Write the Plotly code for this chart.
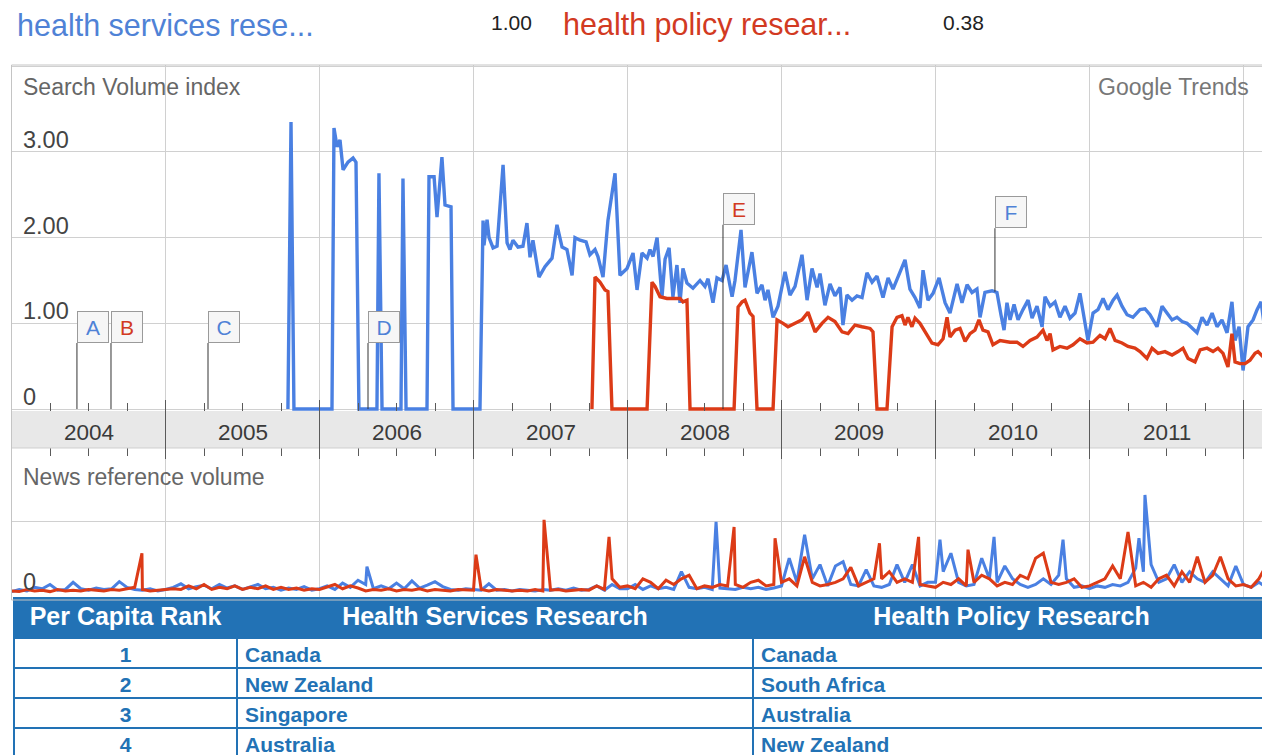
import numpy as np
import plotly.graph_objects as go

W, H = 1270, 755

# ---------------- data ----------------
terms = ["health services rese...", "health policy resear..."]
term_avgs = ["1.00", "0.38"]

year_labels = [2004, 2005, 2006, 2007, 2008, 2009, 2010, 2011]
year_bounds = [2005, 2006, 2007, 2008, 2009, 2010, 2011, 2012]
top_ticks = [0, 1, 2, 3]
top_tick_text = ["0", "1.00", "2.00", "3.00"]

# Search volume index, "health services research" (decimal year, value)
hsr_t = [2005.795, 2005.815, 2005.834, 2006.081, 2006.094, 2006.114, 2006.133, 2006.153, 2006.185, 2006.218,
         2006.237, 2006.256, 2006.373, 2006.386, 2006.406, 2006.529, 2006.542, 2006.562, 2006.698, 2006.711,
         2006.744, 2006.763, 2006.795, 2006.815, 2006.854, 2006.867, 2007.042, 2007.062, 2007.068, 2007.088,
         2007.101, 2007.127, 2007.153, 2007.192, 2007.218, 2007.237, 2007.256, 2007.289, 2007.321, 2007.347,
         2007.367, 2007.386, 2007.425, 2007.464, 2007.510, 2007.542, 2007.575, 2007.607, 2007.640, 2007.659,
         2007.692, 2007.731, 2007.756, 2007.789, 2007.808, 2007.841, 2007.873, 2007.919, 2007.951, 2007.997,
         2008.036, 2008.062, 2008.094, 2008.127, 2008.146, 2008.166, 2008.192, 2008.224, 2008.244, 2008.270,
         2008.295, 2008.321, 2008.341, 2008.360, 2008.386, 2008.425, 2008.471, 2008.503, 2008.523, 2008.555,
         2008.581, 2008.614, 2008.640, 2008.679, 2008.698, 2008.737, 2008.763, 2008.808, 2008.841, 2008.873,
         2008.893, 2008.912, 2008.945, 2008.977, 2009.023, 2009.055, 2009.088, 2009.133, 2009.166, 2009.198,
         2009.231, 2009.250, 2009.282, 2009.315, 2009.347, 2009.380, 2009.399, 2009.425, 2009.458, 2009.490,
         2009.523, 2009.555, 2009.588, 2009.620, 2009.659, 2009.692, 2009.724, 2009.756, 2009.802, 2009.834,
         2009.867, 2009.899, 2009.919, 2009.951, 2009.984, 2010.023, 2010.062, 2010.094, 2010.140, 2010.172,
         2010.205, 2010.237, 2010.269, 2010.289, 2010.321, 2010.367, 2010.399, 2010.425, 2010.445, 2010.464,
         2010.484, 2010.510, 2010.536, 2010.568, 2010.601, 2010.627, 2010.659, 2010.692, 2010.711, 2010.744,
         2010.776, 2010.808, 2010.841, 2010.873, 2010.906, 2010.938, 2010.971, 2010.990, 2011.023, 2011.055,
         2011.088, 2011.120, 2011.153, 2011.179, 2011.211, 2011.244, 2011.282, 2011.328, 2011.360, 2011.393,
         2011.438, 2011.471, 2011.503, 2011.536, 2011.568, 2011.601, 2011.633, 2011.666, 2011.698, 2011.731,
         2011.763, 2011.796, 2011.828, 2011.860, 2011.893, 2011.925, 2011.945, 2011.971, 2011.997, 2012.029,
         2012.062, 2012.088, 2012.114, 2012.133]
hsr_v = [0, 3.35, 0, 0, 3.28, 3.06, 3.14, 2.79, 2.88, 2.93,
         2.88, 0, 0, 2.75, 0, 0, 2.69, 0, 0, 2.71,
         2.71, 2.24, 2.94, 2.38, 2.36, 0, 0, 2.2, 1.91, 2.21,
         2.0, 1.88, 1.9, 2.85, 1.94, 1.86, 1.97, 1.89, 1.9, 2.17,
         1.77, 1.97, 1.54, 1.66, 1.76, 2.15, 1.89, 1.86, 1.56, 2.0,
         1.97, 1.95, 1.8, 1.86, 1.78, 1.54, 2.2, 2.75, 1.56, 1.64,
         1.82, 1.39, 1.82, 1.76, 1.86, 1.78, 2.0, 1.31, 1.75, 1.88,
         1.31, 1.68, 1.24, 1.64, 1.47, 1.41, 1.5, 1.43, 1.52, 1.24,
         1.53, 1.5, 1.68, 1.31, 1.5, 2.09, 1.42, 1.83, 1.35, 1.45,
         1.27, 1.39, 1.07, 1.2, 1.6, 1.33, 1.43, 1.8, 1.27, 1.64,
         1.42, 1.58, 1.21, 1.46, 1.32, 1.42, 0.98, 1.33, 1.27, 1.32,
         1.3, 1.59, 1.48, 1.55, 1.3, 1.53, 1.4, 1.55, 1.74, 1.4,
         1.3, 1.18, 1.62, 1.27, 1.35, 1.53, 1.24, 1.12, 1.46, 1.24,
         1.45, 1.36, 1.4, 1.07, 1.36, 1.38, 1.36, 1.1, 0.92, 1.24,
         1.04, 1.22, 1.04, 1.16, 1.27, 1.06, 1.2, 0.96, 1.31, 1.2,
         1.25, 1.07, 1.2, 1.06, 1.12, 1.35, 0.96, 0.8, 1.12, 1.16,
         1.29, 1.16, 1.27, 1.33, 1.2, 1.1, 1.07, 1.16, 1.17, 1.1,
         0.96, 1.2, 1.12, 1.04, 1.07, 1.02, 1.0, 0.95, 0.89, 1.07,
         0.98, 1.12, 0.96, 1.04, 0.89, 1.25, 0.8, 0.96, 0.45, 0.96,
         1.04, 1.16, 1.25, 1.0]

# Search volume index, "health policy research"
hpr_t = [2007.769, 2007.789, 2007.821, 2007.854, 2007.873, 2007.899, 2008.127, 2008.159, 2008.179, 2008.211,
         2008.256, 2008.341, 2008.360, 2008.386, 2008.406, 2008.692, 2008.718, 2008.744, 2008.763, 2008.795,
         2008.815, 2008.841, 2008.945, 2008.971, 2009.010, 2009.042, 2009.088, 2009.133, 2009.172, 2009.218,
         2009.263, 2009.302, 2009.347, 2009.393, 2009.432, 2009.477, 2009.523, 2009.575, 2009.594, 2009.620,
         2009.685, 2009.718, 2009.750, 2009.782, 2009.802, 2009.821, 2009.847, 2009.867, 2009.899, 2009.932,
         2009.977, 2010.016, 2010.049, 2010.075, 2010.094, 2010.127, 2010.159, 2010.192, 2010.224, 2010.256,
         2010.282, 2010.308, 2010.341, 2010.373, 2010.419, 2010.484, 2010.529, 2010.568, 2010.614, 2010.659,
         2010.698, 2010.724, 2010.744, 2010.763, 2010.808, 2010.854, 2010.893, 2010.938, 2010.984, 2011.023,
         2011.068, 2011.101, 2011.133, 2011.166, 2011.211, 2011.250, 2011.295, 2011.328, 2011.373, 2011.406,
         2011.445, 2011.490, 2011.536, 2011.575, 2011.607, 2011.640, 2011.685, 2011.718, 2011.763, 2011.802,
         2011.834, 2011.867, 2011.899, 2011.925, 2011.945, 2011.977, 2012.010, 2012.042, 2012.075, 2012.094,
         2012.127]
hpr_v = [0, 1.54, 1.48, 1.39, 1.37, 0, 0, 1.48, 1.43, 1.31,
         1.29, 1.29, 1.25, 1.27, 0, 0, 1.19, 1.25, 1.27, 1.12,
         1.08, 0, 0, 1.04, 1.0, 0.96, 1.0, 1.04, 1.13, 0.9,
         1.0, 1.07, 1.02, 0.9, 0.88, 0.98, 0.96, 0.94, 0.9, 0,
         0, 0.96, 1.07, 1.09, 0.98, 1.07, 0.96, 1.06, 1.0, 0.9,
         0.77, 0.75, 0.82, 1.07, 0.84, 0.92, 0.94, 0.79, 0.88, 0.92,
         1.04, 0.92, 0.9, 0.75, 0.8, 0.78, 0.78, 0.73, 0.8, 0.84,
         0.92, 0.8, 0.88, 0.69, 0.73, 0.71, 0.75, 0.82, 0.77, 0.78,
         0.86, 0.82, 0.94, 0.8, 0.77, 0.73, 0.71, 0.67, 0.59, 0.71,
         0.65, 0.67, 0.63, 0.67, 0.71, 0.59, 0.55, 0.69, 0.71, 0.67,
         0.71, 0.65, 0.49, 0.88, 0.55, 0.53, 0.53, 0.57, 0.65, 0.67,
         0.61]

# News reference volume: regular samples every 0.05 year from 2004.00, plus narrow spikes
news_start, news_step = 2004.0, 0.05
news_hsr_grid = [
    0.02, 0.05, 0.03, 0.08, 0.06, 0.12, 0.04, 0.05, 0.15, 0.06, 0.04, 0.07, 0.05, 0.06, 0.16, 0.08, 0.05, 0.04, 0.06, 0.03,
    0.05, 0.08, 0.13, 0.06, 0.09, 0.11, 0.06, 0.12, 0.07, 0.10, 0.05, 0.09, 0.12, 0.06, 0.08, 0.04, 0.07, 0.05, 0.09, 0.04,
    0.06, 0.10, 0.05, 0.14, 0.08, 0.18, 0.12, 0.06, 0.10, 0.06, 0.14, 0.06, 0.17, 0.07, 0.11, 0.16, 0.09, 0.05, 0.04, 0.06,
    0.05, 0.04, 0.13, 0.04, 0.05, 0.03, 0.05, 0.04, 0.03, 0.05, 0.04, 0.06, 0.04, 0.07, 0.04, 0.05, 0.10, 0.04, 0.12, 0.06,
    0.06, 0.12, 0.05, 0.10, 0.06, 0.08, 0.05, 0.30, 0.08, 0.06, 0.08, 0.05, 0.07, 0.06, 0.05, 0.08, 0.06, 0.08, 0.05, 0.07,
    0.10, 0.49, 0.15, 0.82, 0.20, 0.40, 0.10, 0.38, 0.44, 0.12, 0.10, 0.33, 0.10, 0.08, 0.12, 0.40, 0.15, 0.40, 0.10, 0.15,
    0.15, 0.30, 0.56, 0.15, 0.10, 0.12, 0.49, 0.20, 0.15, 0.38, 0.20, 0.12, 0.08, 0.12, 0.20, 0.12, 0.25, 0.20, 0.08, 0.10,
    0.06, 0.10, 0.08, 0.12, 0.10, 0.15, 0.35, 0.30, 0.40, 0.15, 0.20, 0.40, 0.15, 0.30, 0.20, 0.15, 0.30, 0.20, 0.10, 0.38,
    0.12, 0.08, 0.15, 0.08]
news_hpr_grid = [
    0.03, 0.02, 0.05, 0.03, 0.04, 0.02, 0.05, 0.03, 0.04, 0.03, 0.05, 0.04, 0.03, 0.05, 0.04, 0.06, 0.08, 0.05, 0.03, 0.04,
    0.04, 0.06, 0.05, 0.10, 0.06, 0.12, 0.05, 0.08, 0.06, 0.10, 0.05, 0.08, 0.06, 0.10, 0.05, 0.08, 0.05, 0.07, 0.04, 0.06,
    0.05, 0.09, 0.12, 0.06, 0.10, 0.07, 0.03, 0.05, 0.04, 0.06, 0.03, 0.05, 0.04, 0.06, 0.03, 0.05, 0.04, 0.03, 0.05, 0.04,
    0.04, 0.05, 0.03, 0.05, 0.04, 0.03, 0.04, 0.03, 0.05, 0.03, 0.04, 0.05, 0.03, 0.04, 0.05, 0.04, 0.10, 0.05, 0.20, 0.08,
    0.10, 0.06, 0.20, 0.15, 0.06, 0.18, 0.12, 0.20, 0.25, 0.06, 0.10, 0.08, 0.12, 0.10, 0.12, 0.08, 0.15, 0.18, 0.10, 0.12,
    0.15, 0.20, 0.10, 0.51, 0.15, 0.10, 0.12, 0.15, 0.20, 0.36, 0.10, 0.15, 0.20, 0.20, 0.30, 0.15, 0.20, 0.15, 0.12, 0.10,
    0.08, 0.15, 0.12, 0.20, 0.10, 0.15, 0.25, 0.20, 0.10, 0.15, 0.12, 0.25, 0.20, 0.49, 0.56, 0.15, 0.12, 0.15, 0.20, 0.08,
    0.10, 0.15, 0.20, 0.38, 0.20, 0.86, 0.10, 0.15, 0.08, 0.20, 0.25, 0.10, 0.30, 0.15, 0.51, 0.15, 0.25, 0.51, 0.20, 0.10,
    0.12, 0.08, 0.20, 0.40]
news_hsr_spike_t = [2006.308, 2008.575, 2010.029, 2010.380, 2010.828, 2011.321, 2011.360]
news_hsr_spike_v = [0.37, 1.00, 0.75, 0.79, 0.75, 0.77, 1.38]
news_hpr_spike_t = [2004.847, 2007.016, 2007.458, 2007.880, 2008.692, 2008.958, 2009.636, 2009.890, 2010.211]
news_hpr_spike_v = [0.56, 0.54, 1.03, 0.79, 0.93, 0.77, 0.70, 0.79, 0.61]

# Event markers
marker_letters = ["A", "B", "C", "D", "E", "F"]
marker_t = [2004.425, 2004.646, 2005.276, 2006.315, 2008.620, 2010.386]
marker_series = ["hsr", "hpr", "hsr", "hsr", "hpr", "hsr"]

# Table
table_headers = ["Per Capita Rank", "Health Services Research", "Health Policy Research"]
ranks = ["1", "2", "3", "4"]
hsr_countries = ["Canada", "New Zealand", "Singapore", "Australia"]
hpr_countries = ["Canada", "South Africa", "Australia", "New Zealand"]

# ---------------- style / layout ----------------
BLUE = "#4a80e2"
RED = "#dc3b17"
TXT_BLUE = "#4f82d6"
TXT_RED = "#d23a22"
GRID = "#d0d0d0"
TICK = "#5a5a5a"
TBL = "#2272b5"
FONT = "Liberation Sans, Arial, sans-serif"
BOX_LEVEL = {"A": 0.77, "B": 0.77, "C": 0.77, "D": 0.77, "E": 2.15, "F": 2.11}

# the page body adds an 8px margin, so layout pixels are offset by it
OFF = 8

def px(x):
    return (x - OFF) / W

def py(y):
    return 1 - (y - OFF) / H

X_DOM = [px(11.5), px(1268)]
X_RNG = [2004.0, 2012.159]
TOP_DOM = [py(411), py(65)]
TOP_RNG = [-0.023, 4.014]
NEWS_DOM = [py(598), py(448)]
NEWS_RNG = [-0.07, 2.04]

series = {
    "hsr": (np.array(hsr_t), np.array(hsr_v)),
    "hpr": (np.array(hpr_t), np.array(hpr_v)),
}
series_txt = {"hsr": TXT_BLUE, "hpr": TXT_RED}

def merge_news(grid, st, sv):
    gt = news_start + news_step * np.arange(len(grid))
    t = np.concatenate([gt, np.array(st)])
    v = np.concatenate([np.array(grid), np.array(sv)])
    order = np.argsort(t)
    return t[order], v[order]

nb_t, nb_v = merge_news(news_hsr_grid, news_hsr_spike_t, news_hsr_spike_v)
nr_t, nr_v = merge_news(news_hpr_grid, news_hpr_spike_t, news_hpr_spike_v)

fig = go.Figure()
fig.add_trace(go.Scatter(x=hsr_t, y=hsr_v, mode="lines", line=dict(color=BLUE, width=3.4),
                         xaxis="x", yaxis="y", hoverinfo="skip", showlegend=False))
fig.add_trace(go.Scatter(x=hpr_t, y=hpr_v, mode="lines", line=dict(color=RED, width=3.4),
                         xaxis="x", yaxis="y", hoverinfo="skip", showlegend=False))
fig.add_trace(go.Scatter(x=nb_t, y=nb_v, mode="lines", line=dict(color=BLUE, width=3),
                         xaxis="x2", yaxis="y2", hoverinfo="skip", showlegend=False))
fig.add_trace(go.Scatter(x=nr_t, y=nr_v, mode="lines", line=dict(color=RED, width=3),
                         xaxis="x2", yaxis="y2", hoverinfo="skip", showlegend=False))

fig.add_trace(go.Table(
    domain=dict(x=[px(14), px(1270)], y=[0.0, py(598)]),
    columnwidth=[223, 516, 517],
    header=dict(values=table_headers, fill_color=TBL, line=dict(color=TBL, width=2),
                font=dict(color="white", size=25, family=FONT, weight="bold"), align="center", height=40),
    cells=dict(values=[ranks, hsr_countries, hpr_countries], fill_color="white",
               line=dict(color=TBL, width=2),
               font=dict(color=TBL, size=21, family=FONT, weight="bold"),
               align=["center", "left", "left"], height=30),
))

axis_common = dict(range=X_RNG, domain=X_DOM, showgrid=True, gridcolor=GRID, gridwidth=1,
                   tick0=2004, dtick=1, ticks="inside", ticklen=11, tickcolor=TICK, tickwidth=1,
                   showticklabels=False, zeroline=False, showline=False, fixedrange=True,
                   minor=dict(tick0=2004, dtick=0.25, ticks="inside", ticklen=8, tickcolor=TICK,
                              tickwidth=1, showgrid=False))

fig.update_layout(
    width=W, height=H, margin=dict(l=0, r=0, t=0, b=0),
    paper_bgcolor="white", plot_bgcolor="white", showlegend=False,
    xaxis=dict(anchor="y", side="bottom", **axis_common),
    yaxis=dict(domain=TOP_DOM, range=TOP_RNG, tickvals=top_ticks + [4], showgrid=True, gridcolor=GRID,
               showticklabels=False, zeroline=False, ticks="", fixedrange=True),
    xaxis2=dict(anchor="y2", side="top", **axis_common),
    yaxis2=dict(domain=NEWS_DOM, range=NEWS_RNG, tickvals=[1], showgrid=True, gridcolor=GRID,
                showticklabels=False, zeroline=False, ticks="", fixedrange=True),
)

shapes = []
annotations = []

# year band
shapes.append(dict(type="rect", xref="paper", yref="paper", x0=X_DOM[0], x1=X_DOM[1],
                   y0=py(448), y1=py(411), fillcolor="#e8e8e8", line=dict(width=0), layer="below"))
shapes.append(dict(type="line", xref="paper", yref="paper", x0=X_DOM[0], x1=X_DOM[1],
                   y0=py(448), y1=py(448), line=dict(color="#cfcfcf", width=1)))
for yb in year_bounds:
    shapes.append(dict(type="line", xref="x", yref="paper", x0=yb, x1=yb, y0=py(449), y1=py(410),
                       line=dict(color=TICK, width=1)))
for yl in year_labels:
    annotations.append(dict(x=yl + 0.5, xref="x", y=py(432), yref="paper", text=str(yl), showarrow=False,
                            font=dict(family=FONT, size=22.5, color="#3a3a3a"), xanchor="center", yanchor="middle"))

# frame
shapes.append(dict(type="rect", xref="paper", yref="paper", x0=X_DOM[0], x1=X_DOM[1],
                   y0=py(600), y1=py(65), line=dict(color="#c4c4c4", width=1), fillcolor="rgba(0,0,0,0)"))

# y labels of top panel
for v, tx in zip(top_ticks, top_tick_text):
    annotations.append(dict(x=px(21), xref="paper", y=v, yref="y", text=tx, showarrow=False,
                            xanchor="left", yanchor="bottom", yshift=-3,
                            font=dict(family=FONT, size=23.5, color="#444444")))
annotations.append(dict(x=px(21), xref="paper", y=0, yref="y2", text="0", showarrow=False,
                        xanchor="left", yanchor="bottom", yshift=-4,
                        font=dict(family=FONT, size=23.5, color="#444444")))

annotations.append(dict(x=px(21), y=py(87), xref="paper", yref="paper", text="Search Volume index",
                        showarrow=False, xanchor="left", yanchor="middle",
                        font=dict(family=FONT, size=23, color="#666666")))
annotations.append(dict(x=px(1251), y=py(87), xref="paper", yref="paper", text="Google Trends",
                        showarrow=False, xanchor="right", yanchor="middle",
                        font=dict(family=FONT, size=23, color="#777777")))
annotations.append(dict(x=px(21), y=py(477), xref="paper", yref="paper", text="News reference volume",
                        showarrow=False, xanchor="left", yanchor="middle",
                        font=dict(family=FONT, size=23, color="#666666")))

# header legend
annotations.append(dict(x=px(15), y=py(25), xref="paper", yref="paper", text=terms[0], showarrow=False,
                        xanchor="left", yanchor="middle", font=dict(family=FONT, size=30.5, color=TXT_BLUE)))
annotations.append(dict(x=px(534), y=py(23), xref="paper", yref="paper", text=term_avgs[0], showarrow=False,
                        xanchor="right", yanchor="middle", font=dict(family=FONT, size=21, color="#222222")))
annotations.append(dict(x=px(561), y=py(25), xref="paper", yref="paper", text=terms[1], showarrow=False,
                        xanchor="left", yanchor="middle", font=dict(family=FONT, size=30.5, color=TXT_RED)))
annotations.append(dict(x=px(986), y=py(23), xref="paper", yref="paper", text=term_avgs[1], showarrow=False,
                        xanchor="right", yanchor="middle", font=dict(family=FONT, size=21, color="#222222")))

# event markers
for letter, t, s in zip(marker_letters, marker_t, marker_series):
    st, sv = series[s]
    base = float(np.interp(t, st, sv, left=0.0, right=0.0))
    top = BOX_LEVEL[letter]
    shapes.append(dict(type="line", xref="x", yref="y", x0=t, x1=t, y0=base, y1=top,
                       line=dict(color="#333333", width=1)))
    annotations.append(dict(x=t, y=top, xref="x", yref="y", text=letter, showarrow=False,
                            xanchor="left", yanchor="bottom", width=24, height=24, borderpad=3,
                            bgcolor="#f6f6f6", bordercolor="#9a9a9a", borderwidth=1,
                            font=dict(family=FONT, size=21, color=series_txt[s])))

fig.update_layout(shapes=shapes, annotations=annotations)
fig.write_html("out.html")
